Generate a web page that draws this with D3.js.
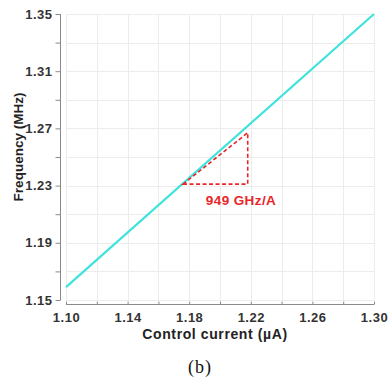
<!DOCTYPE html>
<html>
<head>
<meta charset="utf-8">
<script src="https://cdn.jsdelivr.net/npm/d3@7"></script>
<style>
  body { margin: 0; background: #fff; }
  svg { display: block; }
  text { font-family: "Liberation Sans", Arial, sans-serif; }
</style>
</head>
<body>
<div id="chart"></div>
<script>
var width = 388;
var height = 378;

// data
var currents = [1.10, 1.30];
var frequencies = [1.159, 1.35];
var xTicks = [1.10, 1.14, 1.18, 1.22, 1.26, 1.30];
var yTicks = [1.15, 1.19, 1.23, 1.27, 1.31, 1.35];
var xMinorTicks = [1.12, 1.16, 1.20, 1.24, 1.28];
var yMinorTicks = [1.17, 1.21, 1.25, 1.29, 1.33];
var triangleX = [1.176, 1.218, 1.218];
var triangleY = [1.231, 1.231, 1.267];
var slopeLabel = "949 GHz/A";

var plotLeft = 66;
var plotRight = 374;
var plotTop = 14;
var plotBottom = 300;
var yAxisX = 60.5;
var xAxisY = 304.5;

var x = d3.scaleLinear().domain([1.10, 1.30]).range([plotLeft, plotRight]);
var y = d3.scaleLinear().domain([1.15, 1.35]).range([plotBottom, plotTop]);

function isMajor(list, d) {
    return list.some(function (t) { return Math.abs(t - d) < 1e-9; });
}

var svg = d3.select("#chart").append("svg")
    .attr("width", width)
    .attr("height", height);

// grid
var grid = svg.append("g").attr("stroke", "#ececec").attr("stroke-width", 1);
grid.selectAll("line.gx")
    .data(xTicks.concat(xMinorTicks))
    .enter().append("line")
    .attr("x1", function (d) { return Math.round(x(d)) + 0.5; })
    .attr("x2", function (d) { return Math.round(x(d)) + 0.5; })
    .attr("y1", plotTop)
    .attr("y2", plotBottom);
grid.selectAll("line.gy")
    .data(yTicks.concat(yMinorTicks))
    .enter().append("line")
    .attr("x1", plotLeft)
    .attr("x2", plotRight)
    .attr("y1", function (d) { return Math.round(y(d)) + 0.5; })
    .attr("y2", function (d) { return Math.round(y(d)) + 0.5; });

// y axis
var yAxis = d3.axisLeft(y)
    .tickValues(yTicks.concat(yMinorTicks))
    .tickSize(5)
    .tickPadding(3)
    .tickFormat(function (d) { return isMajor(yTicks, d) ? d3.format(".2f")(d) : ""; });
var gy = svg.append("g")
    .attr("transform", "translate(" + yAxisX + ",0)")
    .call(yAxis);
gy.select(".domain").attr("d", "M0," + plotTop + "V" + plotBottom);

// x axis
var xAxis = d3.axisBottom(x)
    .tickValues(xTicks.concat(xMinorTicks))
    .tickSize(3)
    .tickPadding(5)
    .tickFormat(function (d) { return isMajor(xTicks, d) ? d3.format(".2f")(d) : ""; });
var gx = svg.append("g")
    .attr("transform", "translate(0," + xAxisY + ")")
    .call(xAxis);
gx.select(".domain").attr("d", "M" + plotLeft + ",0H" + plotRight);
gx.selectAll(".tick line").attr("y1", -3).attr("y2", 0);

[gx, gy].forEach(function (g) {
    g.select(".domain").attr("stroke", "#8a8a8a");
    g.selectAll(".tick line").attr("stroke", "#8a8a8a");
    g.selectAll(".tick text")
        .attr("fill", "#333")
        .attr("font-size", "13px")
        .attr("font-weight", "bold")
        .attr("letter-spacing", "0.5px")
        .style("font-family", "'Liberation Sans', Arial, sans-serif");
});

// data line
var lineData = currents.map(function (c, i) { return [c, frequencies[i]]; });
svg.append("path")
    .datum(lineData)
    .attr("fill", "none")
    .attr("stroke", "#3fe3dc")
    .attr("stroke-width", 2.2)
    .attr("d", d3.line().x(function (d) { return x(d[0]); }).y(function (d) { return y(d[1]); }));

// slope triangle
var tri = triangleX.map(function (t, i) { return [t, triangleY[i]]; });
svg.append("path")
    .datum(tri)
    .attr("fill", "none")
    .attr("stroke", "#e8262a")
    .attr("stroke-width", 1.6)
    .attr("stroke-dasharray", "4,2.5")
    .attr("d", d3.line().x(function (d) { return x(d[0]); }).y(function (d) { return y(d[1]); }).curve(d3.curveLinearClosed));

svg.append("text")
    .attr("x", 241)
    .attr("y", 205)
    .attr("text-anchor", "middle")
    .attr("fill", "#e8262a")
    .attr("font-size", "13.5px")
    .attr("font-weight", "bold")
    .attr("letter-spacing", "0.4px")
    .text(slopeLabel);

// axis titles
svg.append("text")
    .attr("x", 215)
    .attr("y", 339)
    .attr("text-anchor", "middle")
    .attr("fill", "#222")
    .attr("font-size", "14px")
    .attr("font-weight", "bold")
    .attr("letter-spacing", "0.6px")
    .text("Control current (µA)");

svg.append("text")
    .attr("transform", "translate(23,147) rotate(-90)")
    .attr("text-anchor", "middle")
    .attr("fill", "#222")
    .attr("font-size", "13.5px")
    .attr("font-weight", "bold")
    .text("Frequency (MHz)");

svg.append("text")
    .attr("x", 200)
    .attr("y", 373)
    .attr("text-anchor", "middle")
    .attr("fill", "#111")
    .attr("font-size", "18px")
    .attr("letter-spacing", "1px")
    .style("font-family", "'Liberation Serif', 'Times New Roman', serif")
    .text("(b)");
</script>
</body>
</html>
